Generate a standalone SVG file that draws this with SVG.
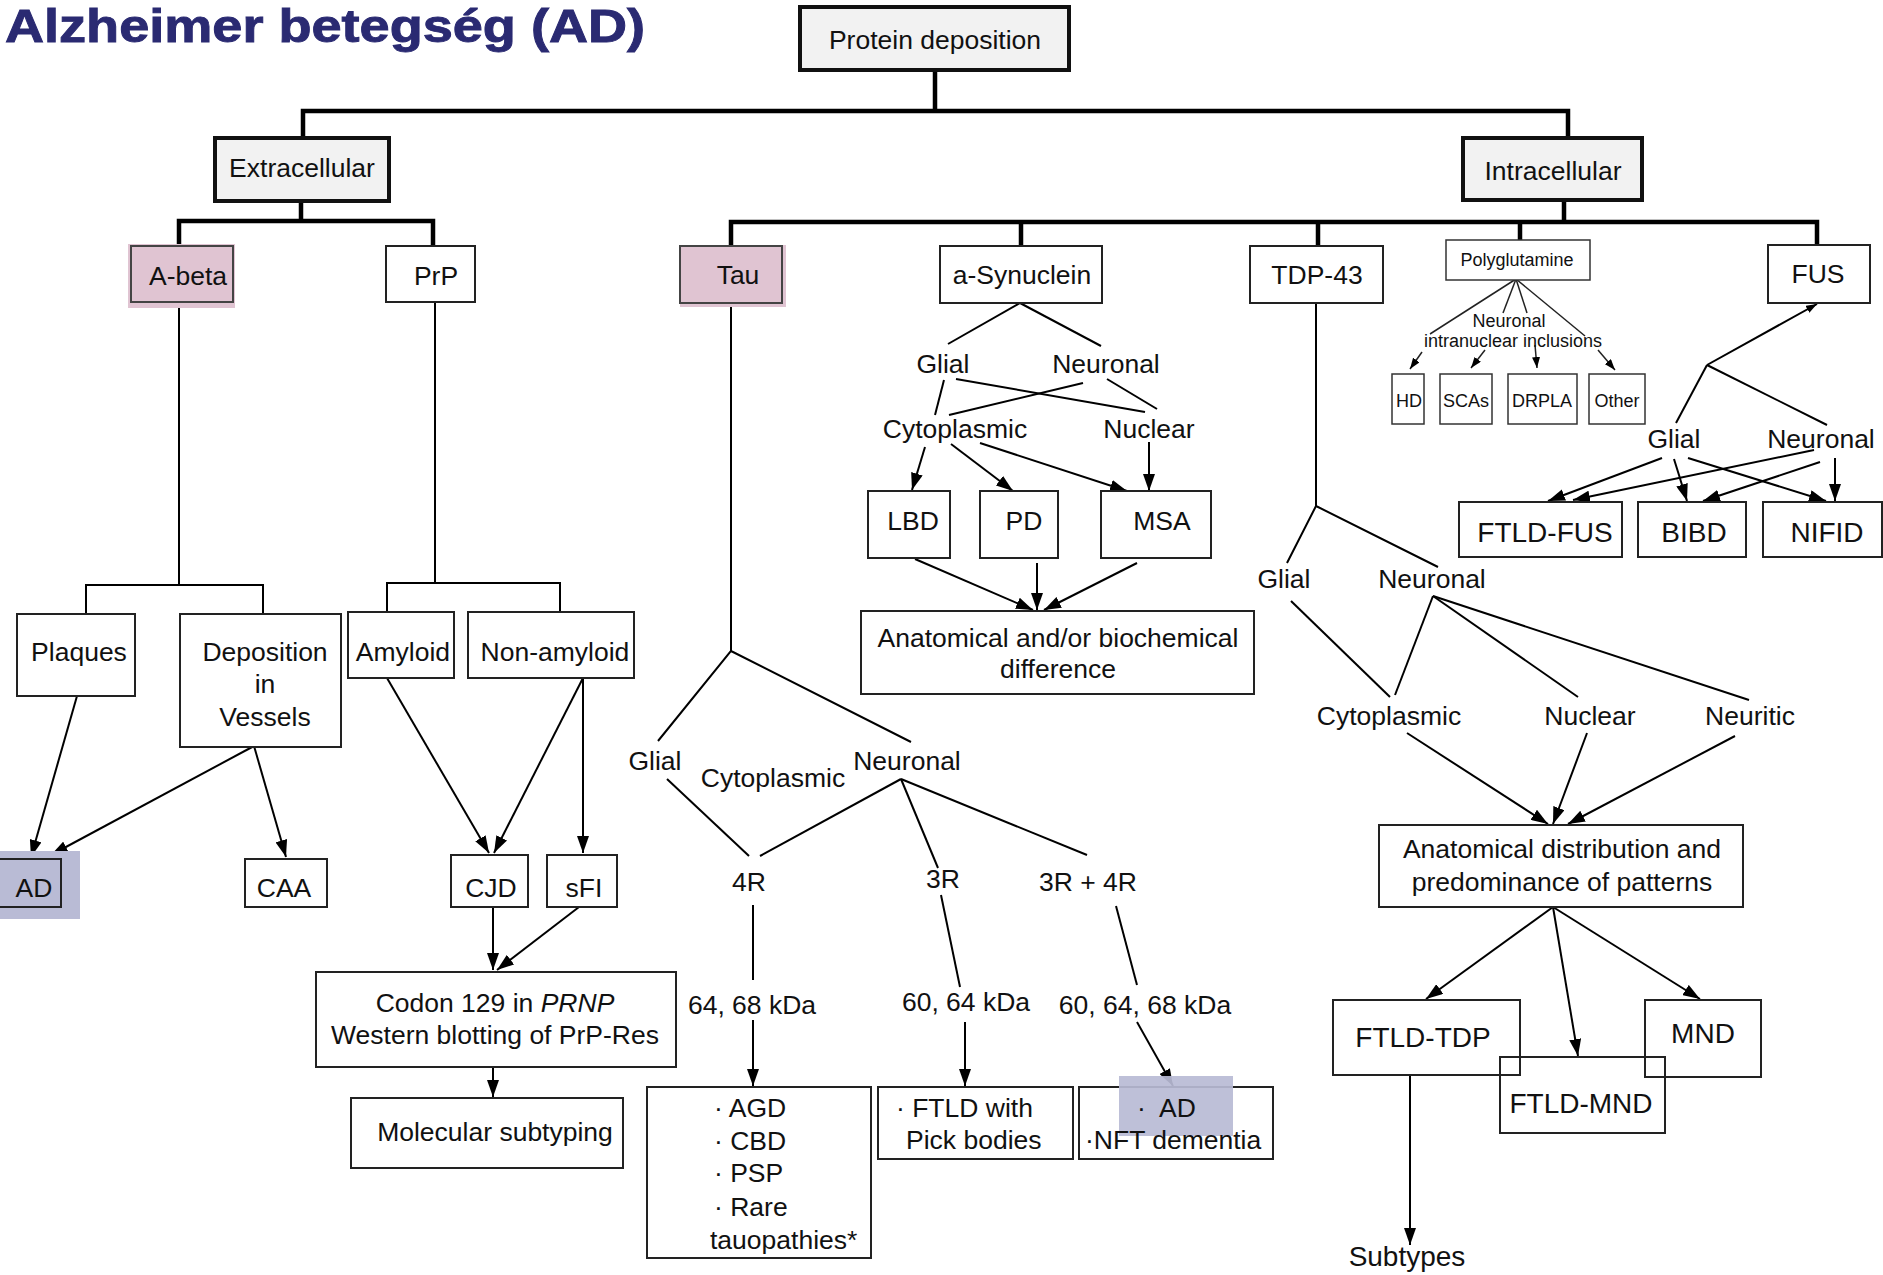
<svg xmlns="http://www.w3.org/2000/svg" width="1883" height="1275" viewBox="0 0 1883 1275">
  <defs>
    <style>
      .t { font-family: "Liberation Sans", Arial, Helvetica, sans-serif; font-size: 26.5px; fill: #111; text-anchor: middle; }
      .tl { text-anchor: start; }
      .big { font-size: 28px; }
      .sm { font-size: 18px; }
      .title { font-family: "Liberation Sans", Arial, Helvetica, sans-serif; font-weight: bold; font-size: 46px; fill: #2a2a72; stroke: #2a2a72; stroke-width: 0.9; }
      .thick { fill: none; stroke: #000; stroke-width: 4.5; stroke-linecap: square; }
      .ln { fill: none; stroke: #000; stroke-width: 2; }
      .lns { fill: none; stroke: #222; stroke-width: 1.5; }
      .arr { marker-end: url(#ah); }
      .arrs { marker-end: url(#ahs); }
      .root { fill: #f2f2f2; stroke: #111; stroke-width: 4; }
      .box { fill: #fff; stroke: #222; stroke-width: 2; }
      .open { fill: none; stroke: #222; stroke-width: 2; }
      .boxs { fill: #fff; stroke: #333; stroke-width: 1.5; }
      .pink { fill: #e0c4d2; }
      .pinkbox { fill: #e0c4d2; stroke: #444; stroke-width: 2; }
      .lav { fill: #b9bbd5; }
    </style>
    <marker id="ah" markerWidth="17" markerHeight="12" refX="17" refY="6" orient="auto" markerUnits="userSpaceOnUse">
      <path d="M0,0 L17,6 L0,12 z" fill="#000"/>
    </marker>
    <marker id="ahs" markerWidth="11" markerHeight="8" refX="11" refY="4" orient="auto" markerUnits="userSpaceOnUse">
      <path d="M0,0 L11,4 L0,8 z" fill="#000"/>
    </marker>
  </defs>

  <rect width="1883" height="1275" fill="#fff"/>

  <text class="title" x="5" y="42" textLength="640" lengthAdjust="spacingAndGlyphs">Alzheimer betegség (AD)</text>

  <!-- connectors -->
  <g id="connectors">
    <!-- main tree -->
    <path class="thick" d="M935,70 V111 M303,138 V111 H1568 V138"/>
    <path class="thick" d="M301,201 V221 M179,246 V221 H433 V246"/>
    <path class="thick" d="M1564,200 V222 M731,246 V222 H1817 V246 M1021,246 V222 M1318,246 V222 M1520,240 V222"/>

    <!-- A-beta / PrP -->
    <path class="ln" d="M179,302 V585 M86,614 V585 H263 V614"/>
    <path class="ln" d="M435,302 V583 M387,612 V583 H560 V612"/>
    <line class="ln arr" x1="77" y1="696" x2="31" y2="857"/>
    <line class="ln arr" x1="254" y1="746" x2="51" y2="855"/>
    <line class="ln arr" x1="254" y1="746" x2="286" y2="857"/>
    <line class="ln arr" x1="387" y1="678" x2="489" y2="853"/>
    <line class="ln arr" x1="583" y1="678" x2="494" y2="853"/>
    <line class="ln arr" x1="583" y1="678" x2="583" y2="853"/>
    <line class="ln arr" x1="493" y1="907" x2="493" y2="970"/>
    <line class="ln arr" x1="579" y1="907" x2="497" y2="970"/>
    <line class="ln arr" x1="493" y1="1067" x2="493" y2="1097"/>

    <!-- Tau -->
    <path class="ln" d="M731,304 V651 L658,741 M731,651 L911,742"/>
    <line class="ln" x1="667" y1="779" x2="749" y2="856"/>
    <line class="ln" x1="901" y1="779" x2="760" y2="856"/>
    <line class="ln" x1="901" y1="779" x2="938" y2="868"/>
    <line class="ln" x1="901" y1="779" x2="1087" y2="855"/>
    <line class="ln" x1="753" y1="905" x2="753" y2="980"/>
    <line class="ln" x1="941" y1="895" x2="960" y2="987"/>
    <line class="ln" x1="1116" y1="906" x2="1137" y2="985"/>
    <line class="ln arr" x1="753" y1="1020" x2="753" y2="1086"/>
    <line class="ln arr" x1="965" y1="1022" x2="965" y2="1086"/>
    <line class="ln arr" x1="1137" y1="1022" x2="1173" y2="1086"/>

    <!-- a-Synuclein -->
    <line class="ln" x1="1020" y1="303" x2="948" y2="344"/>
    <line class="ln" x1="1020" y1="303" x2="1101" y2="346"/>
    <line class="ln" x1="944" y1="380" x2="935" y2="415"/>
    <line class="ln" x1="956" y1="379" x2="1145" y2="412"/>
    <line class="ln" x1="1083" y1="383" x2="949" y2="415"/>
    <line class="ln" x1="1107" y1="379" x2="1157" y2="409"/>
    <line class="ln arr" x1="925" y1="447" x2="912" y2="490"/>
    <line class="ln arr" x1="951" y1="444" x2="1013" y2="491"/>
    <line class="ln arr" x1="980" y1="443" x2="1127" y2="491"/>
    <line class="ln arr" x1="1149" y1="442" x2="1149" y2="491"/>
    <line class="ln arr" x1="915" y1="559" x2="1033" y2="610"/>
    <line class="ln arr" x1="1037" y1="563" x2="1037" y2="610"/>
    <line class="ln arr" x1="1137" y1="563" x2="1044" y2="610"/>

    <!-- TDP-43 -->
    <path class="ln" d="M1316,303 V506 L1287,563 M1316,506 L1438,567"/>
    <line class="ln" x1="1291" y1="601" x2="1390" y2="697"/>
    <line class="ln" x1="1433" y1="596" x2="1395" y2="695"/>
    <line class="ln" x1="1433" y1="596" x2="1578" y2="697"/>
    <line class="ln" x1="1433" y1="596" x2="1749" y2="700"/>
    <line class="ln arr" x1="1407" y1="733" x2="1548" y2="824"/>
    <line class="ln arr" x1="1587" y1="733" x2="1553" y2="824"/>
    <line class="ln arr" x1="1735" y1="736" x2="1568" y2="824"/>
    <line class="ln arr" x1="1553" y1="907" x2="1426" y2="999"/>
    <line class="ln arr" x1="1553" y1="907" x2="1578" y2="1056"/>
    <line class="ln arr" x1="1553" y1="907" x2="1700" y2="999"/>
    <line class="ln arr" x1="1410" y1="1075" x2="1410" y2="1245"/>

    <!-- Polyglutamine -->
    <line class="lns" x1="1516" y1="279" x2="1430" y2="334"/>
    <line class="lns" x1="1516" y1="279" x2="1503" y2="313"/>
    <line class="lns" x1="1516" y1="279" x2="1527" y2="313"/>
    <line class="lns" x1="1516" y1="279" x2="1585" y2="336"/>
    <line class="lns arrs" x1="1422" y1="352" x2="1410" y2="369"/>
    <line class="lns arrs" x1="1485" y1="350" x2="1471" y2="368"/>
    <line class="lns arrs" x1="1535" y1="345" x2="1537" y2="368"/>
    <line class="lns arrs" x1="1598" y1="350" x2="1615" y2="370"/>

    <!-- FUS -->
    <line class="ln arrs" x1="1707" y1="365" x2="1817" y2="304"/>
    <line class="ln" x1="1707" y1="365" x2="1676" y2="423"/>
    <line class="ln" x1="1707" y1="365" x2="1827" y2="425"/>
    <line class="ln arr" x1="1662" y1="458" x2="1548" y2="501"/>
    <line class="ln arr" x1="1674" y1="459" x2="1687" y2="501"/>
    <line class="ln arr" x1="1688" y1="458" x2="1826" y2="501"/>
    <line class="ln arr" x1="1814" y1="450" x2="1573" y2="500"/>
    <line class="ln arr" x1="1820" y1="462" x2="1703" y2="501"/>
    <line class="ln arr" x1="1835" y1="458" x2="1835" y2="501"/>
  </g>

  <!-- top level -->
  <g id="protein-deposition">
    <rect class="root" x="800" y="7" width="269" height="63"/>
    <text class="t" x="935" y="49">Protein deposition</text>
  </g>
  <g id="extracellular">
    <rect class="root" x="215" y="138" width="174" height="63"/>
    <text class="t" x="302" y="177">Extracellular</text>
  </g>
  <g id="intracellular">
    <rect class="root" x="1463" y="138" width="179" height="62"/>
    <text class="t" x="1553" y="180">Intracellular</text>
  </g>

  <!-- protein classes -->
  <g id="a-beta">
    <rect class="pink" x="128" y="244" width="107" height="64"/>
    <rect class="pinkbox" x="131" y="246" width="102" height="56"/>
    <text class="t" x="188" y="285">A-beta</text>
  </g>
  <g id="prp">
    <rect class="box" x="386" y="246" width="89" height="56"/>
    <text class="t" x="436" y="285">PrP</text>
  </g>
  <g id="tau">
    <rect class="pink" x="680" y="245" width="106" height="62"/>
    <rect class="pinkbox" x="680" y="246" width="102" height="57"/>
    <text class="t" x="738" y="284">Tau</text>
  </g>
  <g id="a-synuclein">
    <rect class="box" x="940" y="246" width="162" height="57"/>
    <text class="t" x="1022" y="284">a-Synuclein</text>
  </g>
  <g id="tdp-43">
    <rect class="box" x="1250" y="246" width="133" height="57"/>
    <text class="t" x="1317" y="284">TDP-43</text>
  </g>
  <g id="polyglutamine">
    <rect class="boxs" x="1446" y="240" width="144" height="40"/>
    <text class="t sm" x="1517" y="266">Polyglutamine</text>
  </g>
  <g id="fus">
    <rect class="box" x="1768" y="245" width="102" height="58"/>
    <text class="t" x="1818" y="283">FUS</text>
  </g>

  <!-- A-beta branch -->
  <g id="plaques">
    <rect class="box" x="17" y="614" width="118" height="82"/>
    <text class="t" x="79" y="661">Plaques</text>
  </g>
  <g id="deposition-in-vessels">
    <rect class="box" x="180" y="614" width="161" height="133"/>
    <text class="t" x="265" y="661">Deposition</text>
    <text class="t" x="265" y="693">in</text>
    <text class="t" x="265" y="726">Vessels</text>
  </g>
  <g id="ad">
    <rect class="lav" x="0" y="851" width="80" height="68"/>
    <rect class="open" x="-2" y="859" width="63" height="48"/>
    <text class="t" x="34" y="897">AD</text>
  </g>
  <g id="caa">
    <rect class="box" x="245" y="859" width="82" height="48"/>
    <text class="t" x="284" y="897">CAA</text>
  </g>

  <!-- PrP branch -->
  <g id="amyloid">
    <rect class="box" x="348" y="612" width="106" height="66"/>
    <text class="t" x="403" y="661">Amyloid</text>
  </g>
  <g id="non-amyloid">
    <rect class="box" x="468" y="612" width="166" height="66"/>
    <text class="t" x="555" y="661">Non-amyloid</text>
  </g>
  <g id="cjd">
    <rect class="box" x="451" y="855" width="77" height="52"/>
    <text class="t" x="491" y="897">CJD</text>
  </g>
  <g id="sfi">
    <rect class="box" x="547" y="855" width="70" height="52"/>
    <text class="t" x="584" y="897">sFI</text>
  </g>
  <g id="codon-129">
    <rect class="box" x="316" y="972" width="360" height="95"/>
    <text class="t" x="495" y="1012">Codon 129 in <tspan font-style="italic">PRNP</tspan></text>
    <text class="t" x="495" y="1044">Western blotting of PrP-Res</text>
  </g>
  <g id="molecular-subtyping">
    <rect class="box" x="351" y="1098" width="272" height="70"/>
    <text class="t" x="495" y="1141">Molecular subtyping</text>
  </g>

  <!-- Tau branch -->
  <g id="tau-labels">
    <text class="t" x="655" y="770">Glial</text>
    <text class="t" x="773" y="787">Cytoplasmic</text>
    <text class="t" x="907" y="770">Neuronal</text>
    <text class="t" x="749" y="891">4R</text>
    <text class="t" x="943" y="888">3R</text>
    <text class="t" x="1088" y="891">3R + 4R</text>
    <text class="t" x="752" y="1014">64, 68 kDa</text>
    <text class="t" x="966" y="1011">60, 64 kDa</text>
    <text class="t" x="1145" y="1014">60, 64, 68 kDa</text>
  </g>
  <g id="4r-diseases">
    <rect class="box" x="647" y="1087" width="224" height="171"/>
    <text class="t tl" x="714" y="1117">· AGD</text>
    <text class="t tl" x="714" y="1150">· CBD</text>
    <text class="t tl" x="714" y="1182">· PSP</text>
    <text class="t tl" x="714" y="1216">· Rare</text>
    <text class="t tl" x="710" y="1249">tauopathies*</text>
  </g>
  <g id="3r-diseases">
    <rect class="box" x="878" y="1087" width="195" height="72"/>
    <text class="t tl" x="896" y="1117">· FTLD with</text>
    <text class="t tl" x="906" y="1149">Pick bodies</text>
  </g>
  <g id="3r4r-diseases">
    <rect class="box" x="1079" y="1087" width="194" height="72"/>
    <rect class="lav" x="1119" y="1076" width="114" height="60" fill-opacity="0.92"/>
    <text class="t tl" x="1137" y="1117">·<tspan x="1159">AD</tspan></text>
    <text class="t tl" x="1085" y="1149">·NFT dementia</text>
  </g>

  <!-- a-Synuclein branch -->
  <g id="synuclein-labels">
    <text class="t" x="943" y="373">Glial</text>
    <text class="t" x="1106" y="373">Neuronal</text>
    <text class="t" x="955" y="438">Cytoplasmic</text>
    <text class="t" x="1149" y="438">Nuclear</text>
  </g>
  <g id="lbd">
    <rect class="box" x="868" y="491" width="82" height="67"/>
    <text class="t" x="913" y="530">LBD</text>
  </g>
  <g id="pd">
    <rect class="box" x="980" y="491" width="78" height="67"/>
    <text class="t" x="1024" y="530">PD</text>
  </g>
  <g id="msa">
    <rect class="box" x="1101" y="491" width="110" height="67"/>
    <text class="t" x="1162" y="530">MSA</text>
  </g>
  <g id="anatomical-biochemical">
    <rect class="box" x="861" y="611" width="393" height="83"/>
    <text class="t" x="1058" y="647">Anatomical and/or biochemical</text>
    <text class="t" x="1058" y="678">difference</text>
  </g>

  <!-- TDP-43 branch -->
  <g id="tdp-labels">
    <text class="t" x="1284" y="588">Glial</text>
    <text class="t" x="1432" y="588">Neuronal</text>
    <text class="t" x="1389" y="725">Cytoplasmic</text>
    <text class="t" x="1590" y="725">Nuclear</text>
    <text class="t" x="1750" y="725">Neuritic</text>
  </g>
  <g id="anatomical-distribution">
    <rect class="box" x="1379" y="825" width="364" height="82"/>
    <text class="t" x="1562" y="858">Anatomical distribution and</text>
    <text class="t" x="1562" y="891">predominance of patterns</text>
  </g>
  <g id="ftld-tdp">
    <rect class="open" x="1333" y="1000" width="187" height="75"/>
    <text class="t big" x="1423" y="1047">FTLD-TDP</text>
  </g>
  <g id="mnd">
    <rect class="open" x="1645" y="1000" width="116" height="77"/>
    <text class="t big" x="1703" y="1043">MND</text>
  </g>
  <g id="ftld-mnd">
    <rect class="open" x="1500" y="1057" width="165" height="76"/>
    <text class="t big" x="1581" y="1113">FTLD-MND</text>
  </g>
  <g id="subtypes">
    <text class="t big" x="1407" y="1266">Subtypes</text>
  </g>

  <!-- Polyglutamine branch -->
  <g id="polyq-labels">
    <text class="t sm" x="1509" y="327">Neuronal</text>
    <text class="t sm" x="1513" y="347">intranuclear inclusions</text>
  </g>
  <g id="hd">
    <rect class="boxs" x="1392" y="374" width="32" height="50"/>
    <text class="t sm" x="1409" y="407">HD</text>
  </g>
  <g id="scas">
    <rect class="boxs" x="1440" y="374" width="52" height="50"/>
    <text class="t sm" x="1466" y="407">SCAs</text>
  </g>
  <g id="drpla">
    <rect class="boxs" x="1508" y="374" width="69" height="50"/>
    <text class="t sm" x="1542" y="407">DRPLA</text>
  </g>
  <g id="other">
    <rect class="boxs" x="1589" y="374" width="56" height="50"/>
    <text class="t sm" x="1617" y="407">Other</text>
  </g>

  <!-- FUS branch -->
  <g id="fus-labels">
    <text class="t" x="1674" y="448">Glial</text>
    <text class="t" x="1821" y="448">Neuronal</text>
  </g>
  <g id="ftld-fus">
    <rect class="box" x="1459" y="502" width="163" height="55"/>
    <text class="t big" x="1545" y="542">FTLD-FUS</text>
  </g>
  <g id="bibd">
    <rect class="box" x="1638" y="502" width="108" height="55"/>
    <text class="t big" x="1694" y="542">BIBD</text>
  </g>
  <g id="nifid">
    <rect class="box" x="1763" y="502" width="119" height="55"/>
    <text class="t big" x="1827" y="542">NIFID</text>
  </g>
</svg>
